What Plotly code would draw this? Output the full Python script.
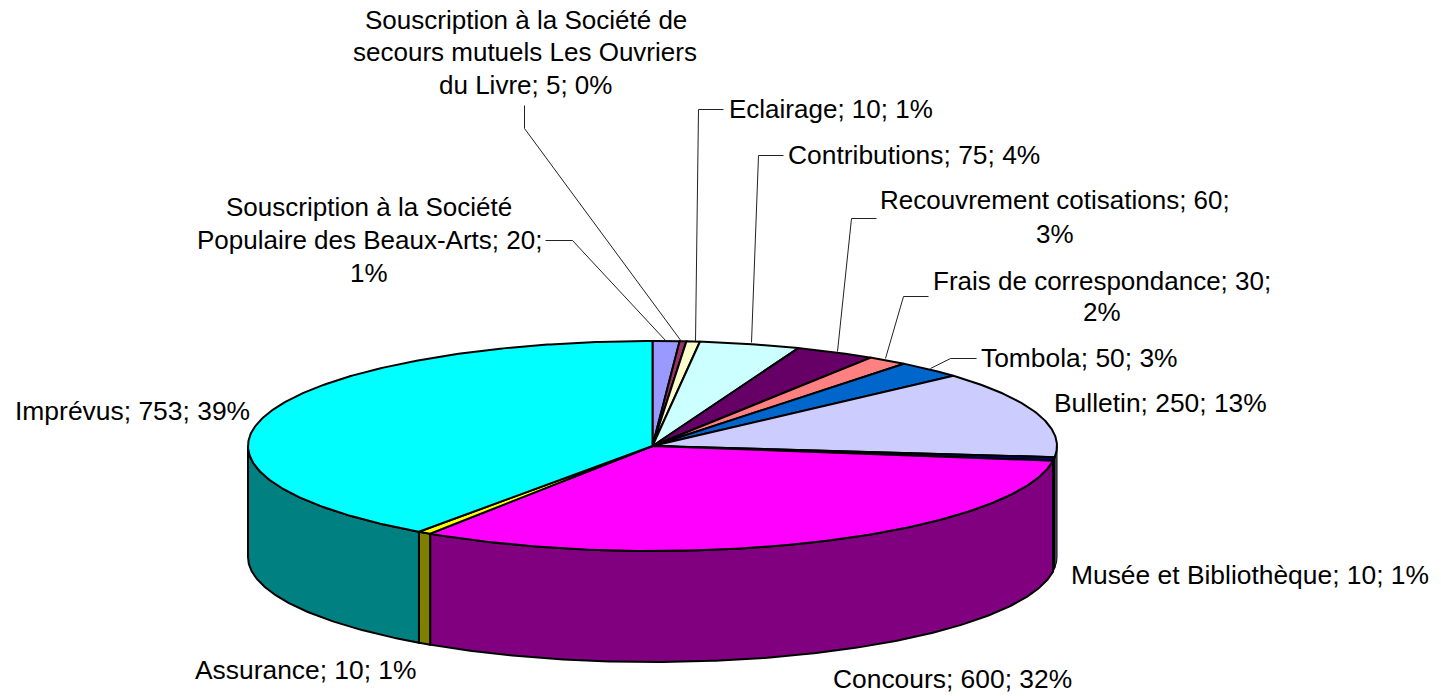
import numpy as np
import plotly.graph_objects as go

# --- data (clockwise from 12 o'clock) ---
categories = ["Souscription à la Société Populaire des Beaux-Arts",
              "Souscription à la Société de secours mutuels Les Ouvriers du Livre",
              "Eclairage", "Contributions", "Recouvrement cotisations",
              "Frais de correspondance", "Tombola", "Bulletin",
              "Musée et Bibliothèque", "Concours", "Assurance", "Imprévus"]
values = [20, 5, 10, 75, 60, 30, 50, 250, 10, 600, 10, 753]
top_colors = ["#9999FF", "#993366", "#FFFFCC", "#CCFFFF", "#660066", "#FF8080",
              "#0066CC", "#CCCCFF", "#000080", "#FF00FF", "#FFFF00", "#00FFFF"]
side_colors = ["#4D4D80", "#4D1A33", "#808066", "#668080", "#330033", "#804040",
               "#003366", "#666680", "#000040", "#800080", "#808000", "#008080"]

# text, one entry per line: (line, anchor, x, y, font size)
labels = [
    ("Souscription à la Société de", "center", 525.5, 20, 26),
    ("secours mutuels Les Ouvriers", "center", 525, 52, 26),
    ("du Livre; 5; 0%", "center", 525, 85, 26),
    ("Eclairage; 10; 1%", "left", 728, 109, 26),
    ("Contributions; 75; 4%", "left", 787, 155, 26.4),
    ("Recouvrement cotisations; 60;", "center", 1055, 200, 26),
    ("3%", "center", 1055, 234, 26),
    ("Frais de correspondance; 30;", "center", 1102, 281, 26),
    ("2%", "center", 1102, 312, 26),
    ("Tombola; 50; 3%", "left", 980, 358, 26.4),
    ("Bulletin; 250; 13%", "left", 1053, 403, 26.4),
    ("Musée et Bibliothèque; 10; 1%", "left", 1070, 575, 26.4),
    ("Concours; 600; 32%", "left", 832, 679, 26.4),
    ("Assurance; 10; 1%", "left", 194, 670, 26.4),
    ("Imprévus; 753; 39%", "left", 14, 411, 26.45),
    ("Souscription à la Société", "center", 369, 207, 26),
    ("Populaire des Beaux-Arts; 20;", "center", 369, 240, 26),
    ("1%", "center", 369, 273, 26),
]
leaders = [
    [(545, 240), (572, 240), (666, 341)],
    [(524, 105), (524, 128), (681, 341)],
    [(723, 109), (698, 109), (695, 341)],
    [(783, 155), (758, 155), (751, 342)],
    [(876, 218), (851, 218), (837, 351)],
    [(928, 296), (903, 296), (885, 358)],
    [(976, 358), (950, 358), (930, 368)],
]

# --- pie geometry (plot units = pixels) ---
CX, CY, RX, RY, DEPTH = 652.5, 446.0, 404.5, 105.0, 111.0


def pt(deg):
    a = np.radians(deg)
    return CX + RX * np.sin(a), CY - RY * np.cos(a)


fig = go.Figure()
edges = np.concatenate([[0], np.cumsum(values)]) / sum(values) * 360

# side wall first, then top
for i in range(len(values)):
    a0, a1 = max(edges[i], 90), min(edges[i + 1], 270)
    if a1 <= a0:
        continue
    t = np.linspace(a0, a1, max(3, int((a1 - a0) * 2)))
    x, y = pt(t)
    narrow_edge = a0 < 100 and a1 - a0 < 8
    fig.add_trace(go.Scatter(
        x=np.concatenate([x, x[::-1], x[:1]]),
        y=np.concatenate([y, y[::-1] + DEPTH, y[:1]]),
        mode="lines", fill="toself", fillcolor=side_colors[i],
        line=dict(color="black", width=1 if narrow_edge else 2),
        hoverinfo="skip", showlegend=False))

for i in range(len(values)):
    a0, a1 = edges[i], edges[i + 1]
    t = np.linspace(a0, a1, max(3, int((a1 - a0) * 2)))
    x, y = pt(t)
    fig.add_trace(go.Scatter(
        x=np.concatenate([[CX], x, [CX]]),
        y=np.concatenate([[CY], y, [CY]]),
        mode="lines", fill="toself", fillcolor=top_colors[i],
        line=dict(color="black", width=2), hoverinfo="skip",
        name=categories[i], showlegend=False))

for pts in leaders:
    path = "M " + " L ".join(f"{a + 0.5} {b + 0.5}" for a, b in pts)
    fig.add_shape(type="path", path=path, xref="x", yref="y",
                  line=dict(color="#222222", width=1))

for text, anchor, x, y, size in labels:
    fig.add_annotation(text=text, x=x, y=y, xref="x", yref="y", xanchor=anchor,
                       yanchor="middle", showarrow=False, align=anchor,
                       borderpad=0,
                       font=dict(family="Liberation Sans", size=size, color="black"))

fig.update_layout(
    width=1441, height=696, margin=dict(l=0, r=0, t=0, b=0),
    paper_bgcolor="white", plot_bgcolor="white", showlegend=False,
    xaxis=dict(range=[0, 1441], visible=False, fixedrange=True),
    yaxis=dict(range=[696, 0], visible=False, fixedrange=True),
)
fig.write_html("out.html", config={"displayModeBar": False},
               post_script="document.body.style.margin='0';document.body.style.overflow='hidden';")
